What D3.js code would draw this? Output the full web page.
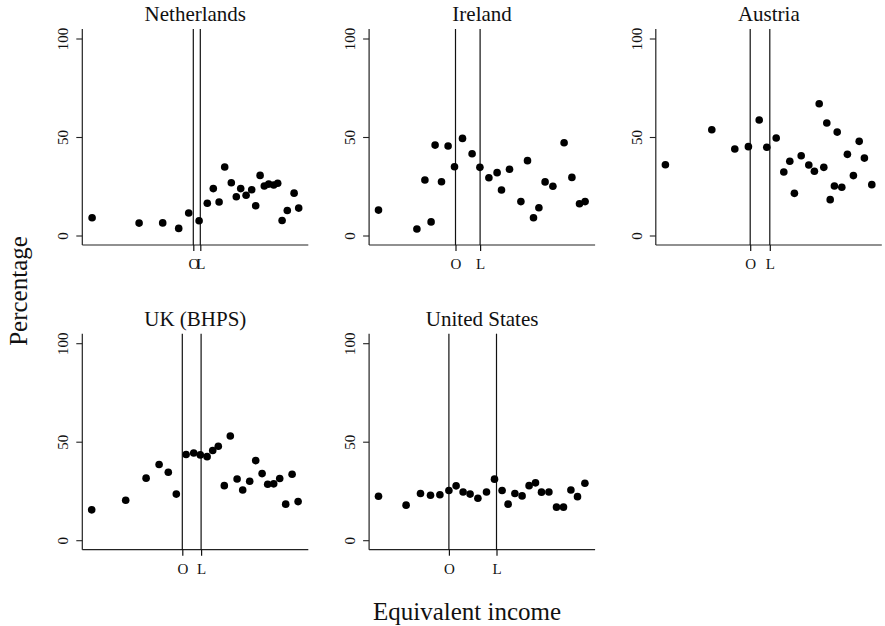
<!DOCTYPE html>
<html>
<head>
<meta charset="utf-8">
<script src="https://cdn.jsdelivr.net/npm/d3@7"></script>
<style>
  html, body { margin: 0; padding: 0; background: #fff; }
  svg { display: block; }
  text { font-family: "Liberation Serif", "Times New Roman", serif; fill: #111; }
</style>
</head>
<body>
<svg id="chart" width="885" height="626"></svg>
<script>
// ---------------- DATA ----------------
const countries = ["Netherlands", "Ireland", "Austria", "UK (BHPS)", "United States"];

// Equivalent income (arbitrary units) and percentage, per country
const nlIncome = [4.9, 28.4, 40.2, 48.2, 53.2, 58.4, 62.5, 65.5, 68.4, 71.2, 74.5, 77, 79.2, 81.9, 84.7, 86.7, 88.9, 91, 93.2, 95.7, 97.7, 99.9, 102.5, 105.9, 108.2];
const nlPct    = [9.0, 6.3, 6.4, 3.6, 11.4, 7.5, 16.4, 23.8, 17.0, 34.8, 26.8, 19.7, 23.8, 20.4, 23.2, 15.1, 30.5, 25.1, 26.1, 25.6, 26.5, 7.6, 12.7, 21.5, 13.9];

const ieIncome = [4.7, 23.9, 31, 27.9, 33, 36.2, 39.5, 42.7, 46.7, 51.5, 55.4, 59.9, 64, 66.2, 70.2, 75.9, 79.2, 82.2, 84.9, 88, 91.9, 97.5, 101.4, 105.2, 108];
const iePct    = [12.9, 3.3, 6.9, 28.2, 45.9, 27.3, 45.4, 34.9, 49.3, 41.5, 34.6, 29.3, 31.9, 23.1, 33.6, 17.2, 38.0, 9.0, 14.1, 27.2, 25.0, 47.1, 29.5, 16.1, 17.2];

const atIncome = [4.8, 28, 39.5, 46.3, 51.7, 55.5, 60.2, 64, 67, 69.3, 72.7, 76.5, 79.3, 81.7, 84, 85.5, 87.2, 89.3, 90.7, 93, 95.8, 98.8, 101.7, 104.3, 108];
const atPct    = [35.9, 53.7, 43.9, 45.1, 58.6, 44.8, 49.5, 32.2, 37.7, 21.4, 40.5, 35.8, 32.6, 66.9, 34.6, 57.1, 18.2, 25.1, 52.5, 24.5, 41.2, 30.4, 47.8, 39.3, 25.8];

const ukIncome = [4.7, 21.7, 31.9, 38.4, 43, 47, 51.9, 55.7, 59, 62.4, 65.2, 68, 74, 71, 77.4, 80.2, 83.7, 86.7, 89.9, 92.7, 95.7, 98.7, 101.7, 104.9, 107.9];
const ukPct    = [15.4, 20.3, 31.5, 38.4, 34.5, 23.4, 43.5, 44.3, 43.3, 42.4, 45.5, 47.7, 52.9, 27.7, 31.1, 25.5, 29.9, 40.4, 33.8, 28.4, 28.6, 31.3, 18.3, 33.5, 19.6];

const usIncome = [4.7, 18.5, 25.7, 30.7, 35.4, 39.9, 43.5, 47, 50.5, 54.4, 58.7, 62.7, 66.5, 69.5, 72.9, 76.5, 80, 83.2, 86.2, 89.9, 93.7, 97.2, 100.9, 104.2, 107.9];
const usPct    = [22.3, 17.8, 23.7, 22.8, 23.1, 25.2, 27.6, 24.5, 23.4, 21.3, 24.5, 31.0, 25.2, 18.3, 23.7, 22.5, 27.7, 29.1, 24.4, 24.5, 16.8, 16.8, 25.5, 22.1, 28.9];

// Position of the O and L reference lines on the income axis
const markerO = [55.5, 43.2, 47.2, 50, 39.9];
const markerL = [59, 55.5, 57, 59.4, 63.7];
const markerLabels = ["O", "L"];

const yTicks = [0, 50, 100];
const yTitle = "Percentage";
const xTitle = "Equivalent income";

const incomes = [nlIncome, ieIncome, atIncome, ukIncome, usIncome];
const pcts = [nlPct, iePct, atPct, ukPct, usPct];

// ---------------- LAYOUT ----------------
const panelW = 226, panelH = 216;
const lefts = [82.3, 369.1, 655.8];
const tops = [29, 333.7];

const svg = d3.select("#chart");

const x = d3.scaleLinear().domain([0, 113]).range([0, panelW]);
const y = d3.scaleLinear().domain([0, 100]).range([206.5, 9.5]);

countries.forEach((name, i) => {
  const col = i % 3, row = Math.floor(i / 3);
  const g = svg.append("g").attr("transform", `translate(${lefts[col]},${tops[row]})`);

  // title
  g.append("text")
    .attr("x", panelW / 2).attr("y", -8)
    .attr("text-anchor", "middle")
    .style("font-size", "21px")
    .text(name);

  // y axis
  const yAx = g.append("g").call(
    d3.axisLeft(y).tickValues(yTicks).tickSize(6).tickSizeOuter(0).tickFormat(d3.format("d"))
  );
  yAx.select(".domain").remove();
  yAx.selectAll(".tick line").attr("stroke", "#222").attr("stroke-width", 1.1);
  yAx.selectAll(".tick text")
    .attr("transform", "rotate(-90)")
    .attr("x", 0).attr("y", -14).attr("dy", 0)
    .attr("text-anchor", "middle")
    .style("font-family", "'Liberation Serif', serif")
    .style("font-size", "15px")
    .attr("fill", "#111");

  // axis lines
  g.append("line").attr("x1", 0).attr("x2", 0).attr("y1", 0).attr("y2", panelH)
    .attr("stroke", "#222").attr("stroke-width", 1.2);
  g.append("line").attr("x1", 0).attr("x2", panelW).attr("y1", panelH).attr("y2", panelH)
    .attr("stroke", "#222").attr("stroke-width", 1.2);

  // x axis with O / L ticks
  const marks = [markerO[i], markerL[i]];
  const xAx = g.append("g").attr("transform", `translate(0,${panelH})`).call(
    d3.axisBottom(x).tickValues(marks).tickSize(6).tickSizeOuter(0)
      .tickFormat((d, k) => markerLabels[k])
  );
  xAx.select(".domain").remove();
  xAx.selectAll(".tick line").attr("stroke", "#111").attr("stroke-width", 1.2);
  xAx.selectAll(".tick text")
    .attr("y", 24.3).attr("dy", 0)
    .style("font-family", "'Liberation Serif', serif")
    .style("font-size", "15px")
    .attr("fill", "#111");

  // vertical reference lines
  g.selectAll("line.ref").data(marks).enter().append("line")
    .attr("class", "ref")
    .attr("x1", d => x(d)).attr("x2", d => x(d))
    .attr("y1", 0).attr("y2", panelH)
    .attr("stroke", "#111").attr("stroke-width", 1.2);

  // points
  const pts = incomes[i].map((v, k) => ({ inc: v, pct: pcts[i][k] }));
  g.selectAll("circle").data(pts).enter().append("circle")
    .attr("cx", d => x(d.inc)).attr("cy", d => y(d.pct))
    .attr("r", 3.8).attr("fill", "#000");
});

// axis titles
svg.append("text")
  .attr("transform", "translate(27,291) rotate(-90)")
  .attr("text-anchor", "middle")
  .style("font-size", "25px")
  .text(yTitle);

svg.append("text")
  .attr("x", 467).attr("y", 620)
  .attr("text-anchor", "middle")
  .style("font-size", "25px")
  .text(xTitle);
</script>
</body>
</html>
